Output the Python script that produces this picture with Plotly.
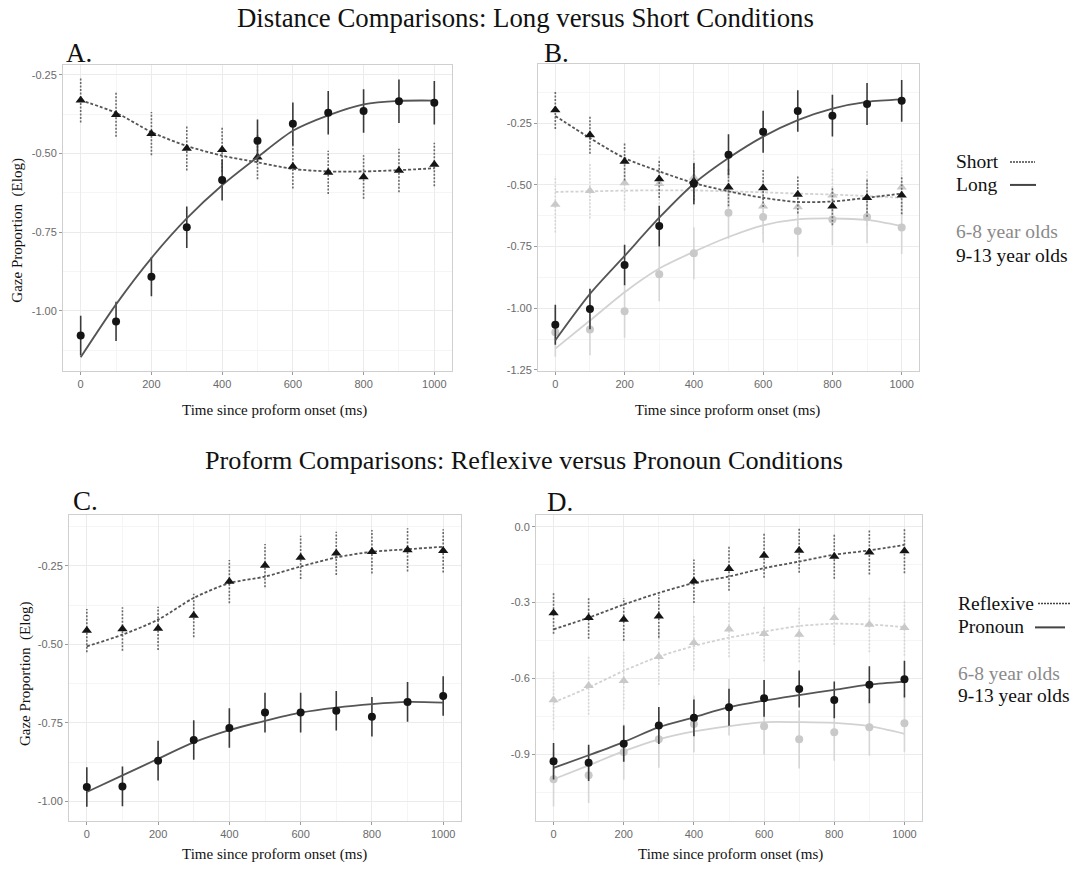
import plotly.graph_objects as go

# ---------------- data ----------------
time_ms = [0, 100, 200, 300, 400, 500, 600, 700, 800, 900, 1000]

# Panel A (Distance, all children)
a_long_y = [-1.078, -1.033, -0.891, -0.734, -0.584, -0.460, -0.406, -0.371, -0.365, -0.334, -0.339]
a_long_err = [0.063, 0.062, 0.062, 0.066, 0.065, 0.068, 0.068, 0.069, 0.069, 0.069, 0.069]
a_long_fit = [-1.147, -0.979, -0.832, -0.706, -0.601, -0.512, -0.428, -0.379, -0.344, -0.333, -0.332]
a_short_y = [-0.331, -0.377, -0.437, -0.484, -0.488, -0.512, -0.541, -0.560, -0.575, -0.554, -0.535]
a_short_err = [0.071, 0.070, 0.069, 0.070, 0.070, 0.070, 0.070, 0.069, 0.069, 0.069, 0.069]
a_short_fit = [-0.331, -0.371, -0.432, -0.476, -0.507, -0.528, -0.549, -0.557, -0.557, -0.553, -0.547]

# Panel B (Distance, by age group)
b_old_long_y = [-1.067, -1.003, -0.825, -0.667, -0.495, -0.378, -0.284, -0.200, -0.219, -0.172, -0.159]
b_old_long_err = [0.081, 0.082, 0.082, 0.083, 0.083, 0.084, 0.085, 0.084, 0.085, 0.085, 0.085]
b_old_long_fit = [-1.130, -0.942, -0.788, -0.633, -0.495, -0.391, -0.304, -0.237, -0.190, -0.163, -0.153]
b_old_short_y = [-0.196, -0.297, -0.405, -0.476, -0.485, -0.509, -0.512, -0.539, -0.586, -0.552, -0.542]
b_old_short_err = [0.077, 0.077, 0.077, 0.077, 0.077, 0.077, 0.077, 0.077, 0.077, 0.077, 0.077]
b_old_short_fit = [-0.220, -0.310, -0.391, -0.445, -0.492, -0.526, -0.552, -0.569, -0.567, -0.552, -0.535]
b_young_long_y = [-1.097, -1.086, -1.012, -0.862, -0.777, -0.613, -0.630, -0.687, -0.640, -0.630, -0.673]
b_young_long_err = [0.100, 0.105, 0.108, 0.110, 0.105, 0.105, 0.104, 0.104, 0.105, 0.106, 0.107]
b_young_long_fit = [-1.164, -1.050, -0.935, -0.839, -0.771, -0.711, -0.664, -0.640, -0.636, -0.642, -0.667]
b_young_short_y = [-0.579, -0.524, -0.492, -0.495, -0.470, -0.509, -0.586, -0.589, -0.542, -0.552, -0.509]
b_young_short_err = [0.114, 0.112, 0.112, 0.112, 0.112, 0.112, 0.112, 0.112, 0.112, 0.112, 0.112]
b_young_short_fit = [-0.528, -0.526, -0.523, -0.522, -0.522, -0.526, -0.530, -0.535, -0.539, -0.545, -0.552]

# Panel C (Proform, all children)
c_refl_y = [-0.456, -0.451, -0.449, -0.408, -0.300, -0.249, -0.223, -0.210, -0.205, -0.199, -0.202]
c_refl_err = [0.069, 0.069, 0.069, 0.069, 0.069, 0.069, 0.069, 0.069, 0.069, 0.069, 0.069]
c_refl_fit = [-0.506, -0.469, -0.421, -0.352, -0.305, -0.284, -0.252, -0.223, -0.205, -0.197, -0.189]
c_pron_y = [-0.954, -0.952, -0.870, -0.804, -0.766, -0.717, -0.717, -0.711, -0.730, -0.683, -0.664]
c_pron_err = [0.063, 0.063, 0.063, 0.063, 0.063, 0.063, 0.063, 0.063, 0.063, 0.063, 0.063]
c_pron_fit = [-0.970, -0.917, -0.864, -0.812, -0.773, -0.743, -0.717, -0.701, -0.690, -0.683, -0.685]

# Panel D (Proform, by age group)
d_old_refl_y = [-0.341, -0.360, -0.367, -0.354, -0.216, -0.166, -0.114, -0.094, -0.118, -0.101, -0.096]
d_old_refl_err = [0.082, 0.083, 0.084, 0.085, 0.086, 0.087, 0.088, 0.088, 0.088, 0.088, 0.088]
d_old_refl_fit = [-0.406, -0.360, -0.308, -0.262, -0.223, -0.197, -0.164, -0.138, -0.111, -0.094, -0.072]
d_young_refl_y = [-0.685, -0.629, -0.609, -0.514, -0.459, -0.406, -0.423, -0.426, -0.360, -0.387, -0.400]
d_young_refl_err = [0.118, 0.115, 0.113, 0.112, 0.110, 0.110, 0.110, 0.110, 0.108, 0.110, 0.110]
d_young_refl_fit = [-0.695, -0.636, -0.570, -0.514, -0.472, -0.439, -0.415, -0.393, -0.384, -0.387, -0.397]
d_old_pron_y = [-0.928, -0.934, -0.858, -0.786, -0.756, -0.714, -0.679, -0.642, -0.685, -0.625, -0.603]
d_old_pron_err = [0.072, 0.072, 0.072, 0.073, 0.073, 0.073, 0.073, 0.073, 0.073, 0.073, 0.073]
d_old_pron_fit = [-0.954, -0.904, -0.852, -0.793, -0.754, -0.714, -0.688, -0.666, -0.645, -0.625, -0.613]
d_young_pron_y = [-0.999, -0.983, -0.891, -0.841, -0.780, -0.714, -0.789, -0.841, -0.813, -0.793, -0.777]
d_young_pron_err = [0.108, 0.110, 0.110, 0.112, 0.112, 0.112, 0.113, 0.115, 0.113, 0.113, 0.113]
d_young_pron_fit = [-0.999, -0.944, -0.888, -0.841, -0.810, -0.789, -0.773, -0.773, -0.776, -0.789, -0.819]

x_ticks = [0, 200, 400, 600, 800, 1000]
x_minor = [100, 300, 500, 700, 900]

# ---------------- styling ----------------
W, H = 1073, 871
SERIF = "Liberation Serif, Times New Roman, serif"
SANS = "Liberation Sans, Arial, sans-serif"

DARK_MARK = "#151515"
DARK_LINE = "#555555"
DARK_ERR = "#3a3a3a"
DARK_DOT_ERR = "#6a6a6a"
LIGHT_MARK = "#c9c9c9"
LIGHT_LINE = "#d2d2d2"
LIGHT_ERR = "#d6d6d6"

fig = go.Figure()


def add_series(xa, ya, y, err, fit, symbol, dotted, light):
    ex, ey = [], []
    for xi, yi, ei in zip(time_ms, y, err):
        ex += [xi, xi, None]
        ey += [yi - ei, yi + ei, None]
    if light:
        ecol, lcol, mcol = LIGHT_ERR, LIGHT_LINE, LIGHT_MARK
    else:
        ecol, lcol, mcol = (DARK_DOT_ERR if dotted else DARK_ERR), DARK_LINE, DARK_MARK
    fig.add_trace(go.Scatter(
        x=ex, y=ey, mode="lines", xaxis=xa, yaxis=ya, hoverinfo="skip", showlegend=False,
        line=dict(color=ecol, width=1.6, dash="2px,1.5px" if dotted else "solid")))
    fig.add_trace(go.Scatter(
        x=time_ms, y=fit, mode="lines", xaxis=xa, yaxis=ya, showlegend=False,
        line=dict(color=lcol, width=1.8, dash="3px,2px" if dotted else "solid", shape="spline", smoothing=0.8)))
    fig.add_trace(go.Scatter(
        x=time_ms, y=y, mode="markers", xaxis=xa, yaxis=ya, showlegend=False,
        marker=dict(symbol=symbol, color=mcol, size=9 if symbol == "triangle-up" else 8, line=dict(width=0))))


# Panel A
add_series("x", "y", a_short_y, a_short_err, a_short_fit, "triangle-up", True, False)
add_series("x", "y", a_long_y, a_long_err, a_long_fit, "circle", False, False)
# Panel B
add_series("x2", "y2", b_young_short_y, b_young_short_err, b_young_short_fit, "triangle-up", True, True)
add_series("x2", "y2", b_young_long_y, b_young_long_err, b_young_long_fit, "circle", False, True)
add_series("x2", "y2", b_old_short_y, b_old_short_err, b_old_short_fit, "triangle-up", True, False)
add_series("x2", "y2", b_old_long_y, b_old_long_err, b_old_long_fit, "circle", False, False)
# Panel C
add_series("x3", "y3", c_refl_y, c_refl_err, c_refl_fit, "triangle-up", True, False)
add_series("x3", "y3", c_pron_y, c_pron_err, c_pron_fit, "circle", False, False)
# Panel D
add_series("x4", "y4", d_young_refl_y, d_young_refl_err, d_young_refl_fit, "triangle-up", True, True)
add_series("x4", "y4", d_young_pron_y, d_young_pron_err, d_young_pron_fit, "circle", False, True)
add_series("x4", "y4", d_old_refl_y, d_old_refl_err, d_old_refl_fit, "triangle-up", True, False)
add_series("x4", "y4", d_old_pron_y, d_old_pron_err, d_old_pron_fit, "circle", False, False)


def px_x(a, b):
    return [a / W, b / W]


def px_y(top, bottom):
    return [1 - bottom / H, 1 - top / H]


common = dict(
    showgrid=True, gridcolor="#ebebeb", gridwidth=1,
    showline=True, linecolor="#cfcfcf", linewidth=1, mirror=True,
    ticks="outside", ticklen=3, tickcolor="#9a9a9a",
    tickfont=dict(family=SANS, size=11, color="#6a6a6a"),
    zeroline=False, fixedrange=True,
)


def xcfg(domain, anchor):
    d = dict(common)
    d.update(domain=domain, anchor=anchor, range=[-50, 1050],
             tickvals=x_ticks, ticktext=[str(v) for v in x_ticks],
             minor=dict(tickvals=x_minor, showgrid=True, gridcolor="#f5f5f5", ticks=""))
    return d


def ycfg(domain, anchor, rng, vals, texts, minor_vals):
    d = dict(common)
    d.update(domain=domain, anchor=anchor, range=rng, tickvals=vals, ticktext=texts,
             minor=dict(tickvals=minor_vals, showgrid=True, gridcolor="#f5f5f5", ticks=""))
    return d


fig.update_layout(
    width=W, height=H,
    margin=dict(l=0, r=0, t=0, b=0),
    paper_bgcolor="white", plot_bgcolor="white",
    showlegend=False,
    xaxis=xcfg(px_x(63, 452), "y"),
    yaxis=ycfg(px_y(65, 373), "x", [-1.19, -0.218],
               [-1.0, -0.75, -0.5, -0.25], ["-1.00", "-0.75", "-0.50", "-0.25"],
               [-1.125, -0.875, -0.625, -0.375]),
    xaxis2=xcfg(px_x(538, 919), "y2"),
    yaxis2=ycfg(px_y(64, 373), "x2", [-1.254, -0.008],
                [-1.25, -1.0, -0.75, -0.5, -0.25], ["-1.25", "-1.00", "-0.75", "-0.50", "-0.25"],
                [-1.125, -0.875, -0.625, -0.375, -0.125]),
    xaxis3=xcfg(px_x(69, 461), "y3"),
    yaxis3=ycfg(px_y(518, 826), "x3", [-1.063, -0.088],
                [-1.0, -0.75, -0.5, -0.25], ["-1.00", "-0.75", "-0.50", "-0.25"],
                [-0.875, -0.625, -0.375, -0.125]),
    xaxis4=xcfg(px_x(536, 922), "y4"),
    yaxis4=ycfg(px_y(518, 826), "x4", [-1.165, 0.046],
                [-0.9, -0.6, -0.3, 0.0], ["-0.9", "-0.6", "-0.3", "0.0"],
                [-1.05, -0.75, -0.45, -0.15]),
)


def ann(text, x, y, size, color="#111111", xanchor="center", yanchor="middle", angle=0, family=SERIF):
    fig.add_annotation(text=text, x=x / W, y=1 - y / H, xref="paper", yref="paper",
                       showarrow=False, xanchor=xanchor, yanchor=yanchor, textangle=angle,
                       font=dict(family=family, size=size, color=color))


# Titles
ann("Distance Comparisons: Long versus Short Conditions", 525, 18, 26.8)
ann("Proform Comparisons: Reflexive versus Pronoun Conditions", 524, 463, 26.2)
# Panel labels
ann("A.", 64, 53, 27, xanchor="left")
ann("B.", 542, 53, 27, xanchor="left")
ann("C.", 71, 504, 27, xanchor="left")
ann("D.", 545, 505, 27, xanchor="left")
# Axis titles
ann("Time since proform onset (ms)", 274, 413, 15)
ann("Time since proform onset (ms)", 727, 413, 15)
ann("Time since proform onset (ms)", 274, 859, 15)
ann("Time since proform onset (ms)", 730, 859, 15)
ann("Gaze Proportion  (Elog)", 18, 232, 15, angle=-90)
ann("Gaze Proportion  (Elog)", 25, 678, 15, angle=-90)

# Custom legends
LEG = 19.5
ann("Short", 954, 162, LEG, xanchor="left")
ann("Long", 954, 186, LEG, xanchor="left")
ann("6-8 year olds", 954, 233, LEG, color="#8a8a8a", xanchor="left")
ann("9-13 year olds", 954, 257, LEG, xanchor="left")
ann("Reflexive", 956, 607, LEG, xanchor="left")
ann("Pronoun", 956, 630, LEG, xanchor="left")
ann("6-8 year olds", 956, 677, LEG, color="#8a8a8a", xanchor="left")
ann("9-13 year olds", 956, 700, LEG, xanchor="left")


def leg_line(x0, x1, y, dotted):
    fig.add_shape(type="line", xref="paper", yref="paper",
                  x0=x0 / W, x1=x1 / W, y0=1 - y / H, y1=1 - y / H,
                  line=dict(color="#444444", width=1.6 if dotted else 2, dash="2px,1px" if dotted else "solid"))


leg_line(1010, 1035, 163, True)
leg_line(1010, 1036, 186, False)
leg_line(1038, 1071, 607, True)
leg_line(1035, 1065, 631, False)

fig.write_html("out.html", config={"displayModeBar": False},
               post_script="document.body.style.margin='0';")
